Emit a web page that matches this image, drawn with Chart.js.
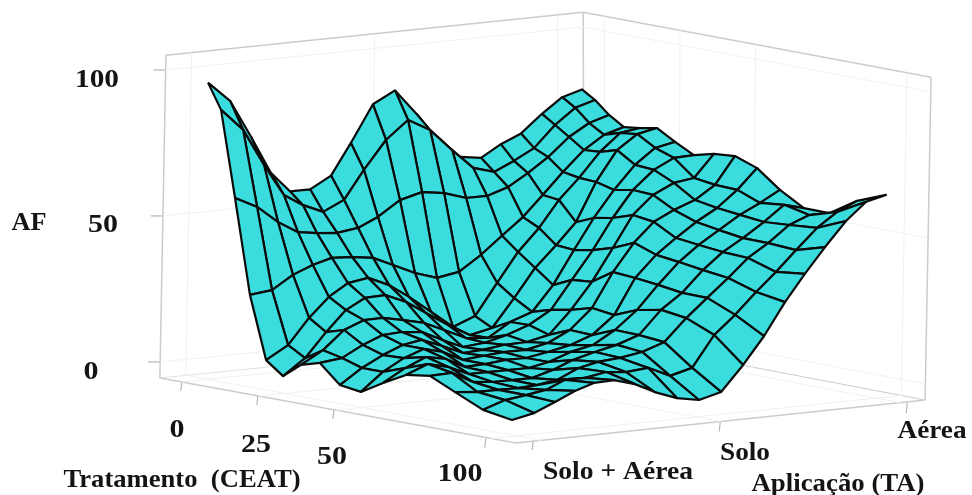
<!DOCTYPE html>
<html>
  <head>
    <title>AF</title>
    <meta charset="utf-8">
    <script src="https://cdn.jsdelivr.net/npm/chart.js@4"></script>
    <style>
      body { margin: 0; background: white; }
      #myChart { display: block; }
    </style>
  </head>
  <body>
    <canvas id="myChart" width="972" height="495"></canvas>
    <script>
      // Tratamento (CEAT) levels of the grid rows
      var tratamento = [0, 4.3, 8.9, 13.8, 19.1, 24.7, 30.6, 36.8, 43.4, 50.3, 57.6, 65.1, 73, 81.3, 90.5, 100];
      // Aplicacao (TA) levels of the grid columns, 0 = Solo + Aerea, 50 = Solo, 100 = Aerea
      var aplicacao = [0, 5.9, 11.5, 16.8, 21.9, 27.3, 32.9, 38.2, 44.1, 50, 55.9, 61.8, 67.4, 73, 78.3, 83.7, 89.3, 94.7, 100];
      // AF, one row per tratamento level
      var af0 = [96, 89, 76, 63, 56, 56, 60, 70.5, 83, 87, 78, 67.5, 62, 61, 65, 68, 74, 79, 81];
      var af1 = [87.5, 79.9, 67.1, 56.2, 52.1, 49.1, 52.5, 62.1, 71.6, 77.7, 73.5, 65.9, 59.1, 57, 60.1, 63.8, 71, 76.2, 78.2];
      var af2 = [58.2, 54.4, 48.5, 44.4, 43.4, 42.8, 43.8, 46.9, 51.9, 53.9, 52.8, 50.4, 50.4, 52.7, 56.8, 61.6, 67.8, 71.9, 74];
      var af3 = [26, 26.9, 31.4, 34.1, 35.9, 35.5, 34.5, 31.4, 27.9, 25.5, 26.8, 31.9, 37.7, 43.4, 50.3, 57.5, 64.3, 68.8, 70.8];
      var af4 = [4.7, 9.1, 17.7, 24.2, 28.3, 29.4, 26.2, 21.5, 15.6, 9.7, 12.7, 23.3, 33.2, 40.7, 49.6, 56.5, 64.7, 70.5, 71.5];
      var af5 = [0.3, 5.7, 13.9, 20.8, 24.3, 24.6, 21.5, 17.1, 12.2, 8, 9.7, 19.2, 28.8, 35.9, 43.1, 56.2, 66.4, 71.2, 72.6];
      var af6 = [5.3, 9.6, 15.8, 18.5, 18.6, 17.2, 15.5, 12.4, 8.9, 8.2, 12.9, 15.6, 24.1, 35.4, 45.7, 54.6, 62.5, 67.6, 69];
      var af7 = [7.2, 8.1, 11.9, 14.6, 15, 14.3, 10.8, 7.8, 8.5, 10.4, 13.1, 17.5, 27.1, 36.6, 46.9, 55.8, 62, 65.4, 65.7];
      var af8 = [0.9, 6, 9.7, 12.5, 13.6, 10.8, 7.7, 8.1, 9.1, 9.3, 11, 18.8, 27.7, 38.6, 49.2, 55.4, 58.8, 59.8, 67.4];
      var af9 = [-0.1, 6, 10, 12.5, 10.8, 7.4, 8.1, 8.7, 8.7, 10.3, 14, 20.8, 32.4, 41.7, 48.2, 51.6, 54.3, 58.8, 68];
      var af10 = [4.4, 8.7, 11.8, 10.5, 7.1, 7.4, 8.1, 8.1, 9.4, 11, 13.7, 19.8, 31.8, 39, 44.1, 48.9, 53, 58.5, 65.3];
      var af11 = [8.6, 11.6, 9.8, 6.8, 6.8, 6.8, 6.8, 8.2, 10.9, 12.5, 16.9, 23, 30.9, 38, 43.2, 47.6, 52.1, 55.5, 59.3];
      var af12 = [9.8, 10.1, 6.3, 5.6, 5.6, 5.6, 7.7, 10.4, 12.4, 14.1, 16.7, 24.6, 29.7, 36.8, 42.3, 46.4, 51.2, 56.4, 54.6];
      var af13 = [5.9, 5.2, 5.2, 5.1, 5.5, 6.6, 9.9, 11.4, 12, 13.3, 15.9, 23.4, 29.6, 35.7, 41.9, 46.3, 51.8, 54.5, 54.5];
      var af14 = [1.6, 4.2, 5.2, 6.3, 9.1, 9.1, 10.4, 9.7, 10.4, 6.9, 8.9, 19.4, 25.6, 32.7, 38.9, 45.7, 52.6, 57.4, 60.5];
      var af15 = [0, 1.6, 4.7, 7.8, 9.9, 10.2, 8.1, 4.7, 1.9, 0.5, 2.5, 11, 20.2, 31.1, 40.1, 48.6, 56.8, 62.7, 64.4];
      var afGrid = [af0, af1, af2, af3, af4, af5, af6, af7, af8, af9, af10, af11, af12, af13, af14, af15];

      var afTicks = [0, 50, 100];
      var tratamentoTicks = [0, 25, 50, 100];
      var aplicacaoTicks = [0, 50, 100];

      // box limits in axis units, floor corners left / front / right / back
      var trCanto = [-6.6, 108.5, 105.6, -7.8];
      var apCanto = [-7.5, -5.8, 105.9, 106.9];
      var afChao = -5.5;
      var afTeto = 105;

      // oblique view of the 3d axes onto the page
      function proj(tr, ap, af) {
        return {
          x: 208 + 3.04 * tr + 3.74 * ap,
          y: 379 + 0.57 * tr - 0.37 * ap - 2.92 * (af - afChao)
        };
      }

      // box lines lean a little to the right going up
      function projCaixa(tr, ap, af) {
        var p = proj(tr, ap, af);
        p.x += 6 * (af - afChao) / (afTeto - afChao) * (tr / 100 + 1 - ap / 100);
        return p;
      }

      var datasets = [];

      function addLinha(a, b, cor, largura) {
        datasets.push({
          data: [a, b],
          showLine: true,
          fill: false,
          borderColor: cor,
          borderWidth: largura,
          pointRadius: 0,
          order: 1000
        });
      }

      function parede(c1, c2, f, af) {
        return projCaixa(trCanto[c1] + (trCanto[c2] - trCanto[c1]) * f, apCanto[c1] + (apCanto[c2] - apCanto[c1]) * f, af);
      }

      var FRACO = '#f1f1f1';
      var CINZA = '#cccccc';

      // faint grid on the two back walls and the floor
      afTicks.forEach(function(v) {
        addLinha(parede(0, 3, 0, v), parede(0, 3, 1, v), FRACO, 1);
        addLinha(parede(3, 2, 0, v), parede(3, 2, 1, v), FRACO, 1);
      });
      tratamentoTicks.forEach(function(v) {
        var f = (v + 7) / 115;
        addLinha(parede(3, 2, f, afChao), parede(3, 2, f, afTeto), FRACO, 1);
        addLinha(parede(0, 1, f, afChao), parede(3, 2, f, afChao), FRACO, 1);
      });
      aplicacaoTicks.forEach(function(v) {
        var f = (v + 7) / 114;
        addLinha(parede(0, 3, f, afChao), parede(0, 3, f, afTeto), FRACO, 1);
        addLinha(parede(1, 2, f, afChao), parede(0, 3, f, afChao), FRACO, 1);
      });

      // box outline
      addLinha(parede(0, 1, 0, afChao), parede(0, 1, 1, afChao), CINZA, 1.5);
      addLinha(parede(1, 2, 0, afChao), parede(1, 2, 1, afChao), CINZA, 1.5);
      addLinha(parede(0, 3, 0, afChao), parede(0, 3, 1, afChao), '#e2e2e2', 1.2);
      addLinha(parede(3, 2, 0, afChao), parede(3, 2, 1, afChao), CINZA, 1.2);
      addLinha(parede(0, 3, 0, afTeto), parede(0, 3, 1, afTeto), CINZA, 1.5);
      addLinha(parede(3, 2, 0, afTeto), parede(3, 2, 1, afTeto), CINZA, 1.5);
      addLinha(parede(0, 3, 0, afChao), parede(0, 3, 0, afTeto), CINZA, 1.5);
      addLinha(parede(3, 2, 0, afChao), parede(3, 2, 0, afTeto), CINZA, 1.5);
      addLinha(parede(3, 2, 1, afChao), parede(3, 2, 1, afTeto), CINZA, 1.5);

      // tick marks
      afTicks.forEach(function(v) {
        var p = parede(0, 3, 0, v);
        addLinha(p, { x: p.x - 12, y: p.y }, '#b5b5b5', 1.2);
      });
      tratamentoTicks.forEach(function(v) {
        var p = proj(v, -7, afChao);
        addLinha(p, { x: p.x - 1, y: p.y + 9 }, '#b5b5b5', 1.2);
      });
      aplicacaoTicks.forEach(function(v) {
        var p = proj(107, v, afChao);
        addLinha(p, { x: p.x - 1, y: p.y + 10 }, '#b5b5b5', 1.2);
      });

      // one filled dataset per cell, far cells painted first
      for (var i = 0; i < tratamento.length - 1; i += 1) {
        for (var j = 0; j < aplicacao.length - 1; j += 1) {
          var a = proj(tratamento[i], aplicacao[j], afGrid[i][j]);
          var b = proj(tratamento[i + 1], aplicacao[j], afGrid[i + 1][j]);
          var c = proj(tratamento[i + 1], aplicacao[j + 1], afGrid[i + 1][j + 1]);
          var d = proj(tratamento[i], aplicacao[j + 1], afGrid[i][j + 1]);
          datasets.push({
            data: [a, b, c, d, a],
            showLine: true,
            fill: 'shape',
            backgroundColor: '#3adcde',
            borderColor: '#0a0a0a',
            borderWidth: 2.2,
            borderJoinStyle: 'round',
            pointRadius: 0,
            tension: 0,
            order: j - i
          });
        }
      }

      var textos = [
        { t: '100', x: 97, y: 81, w: 44 },
        { t: '50', x: 103, y: 226, w: 30 },
        { t: '0', x: 91, y: 373, w: 15 },
        { t: 'AF', x: 29, y: 224, w: 35 },
        { t: '0', x: 177, y: 431, w: 15 },
        { t: '25', x: 256, y: 446, w: 30 },
        { t: '50', x: 332, y: 458, w: 30 },
        { t: '100', x: 460, y: 475, w: 45 },
        { t: 'Tratamento  (CEAT)', x: 182, y: 481, w: 237 },
        { t: 'Solo + Aérea', x: 618, y: 473, w: 150 },
        { t: 'Solo', x: 745, y: 454, w: 50 },
        { t: 'Aérea', x: 932, y: 432, w: 69 },
        { t: 'Aplicação (TA)', x: 838, y: 485, w: 173 }
      ];

      var rotulos = {
        id: 'rotulos',
        afterDraw: function(chart) {
          var ctx = chart.ctx;
          ctx.save();
          ctx.fillStyle = '#141414';
          ctx.font = 'bold 25px "Liberation Serif"';
          ctx.textAlign = 'center';
          ctx.textBaseline = 'middle';
          textos.forEach(function(l) {
            ctx.save();
            ctx.translate(l.x, l.y);
            ctx.scale(l.w / ctx.measureText(l.t).width, 1);
            ctx.fillText(l.t, 0, 0);
            ctx.restore();
          });
          ctx.restore();
        }
      };

      new Chart(document.getElementById('myChart').getContext('2d'), {
        type: 'scatter',
        data: { datasets: datasets },
        plugins: [rotulos],
        options: {
          responsive: false,
          animation: false,
          events: [],
          layout: { padding: 0 },
          plugins: { legend: { display: false }, tooltip: { enabled: false } },
          scales: {
            x: { type: 'linear', min: 0, max: 972, display: false },
            y: { type: 'linear', min: 0, max: 495, reverse: true, display: false }
          }
        }
      });
    </script>
  </body>
</html>
